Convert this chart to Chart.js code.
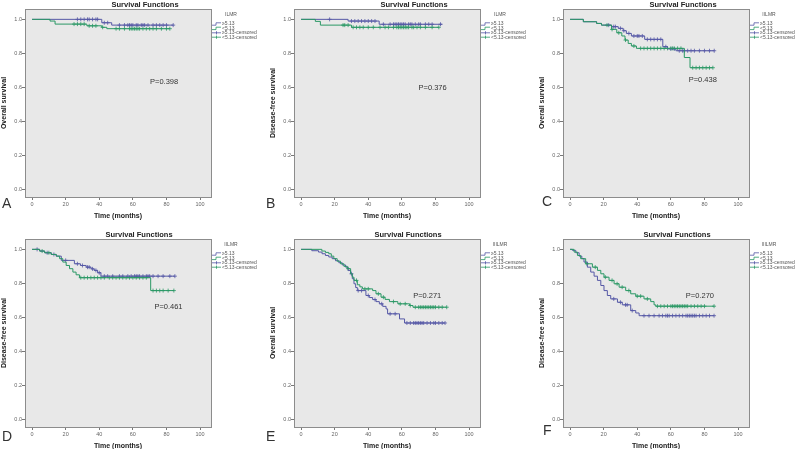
<!DOCTYPE html>
<html>
<head>
<meta charset="utf-8">
<script src="https://cdn.jsdelivr.net/npm/chart.js@4.4.0/dist/chart.umd.min.js"></script>
<style>
html, body { margin: 0; padding: 0; background: #fff; overflow: hidden; width: 800px; height: 449px; }
canvas { position: absolute; }
.letter { position: absolute; font: 14px "Liberation Sans", Arial, sans-serif; color: #333; }
</style>
</head>
<body>
<canvas id="cA" width="269" height="225" style="left:0px;top:0px"></canvas>
<canvas id="cB" width="269" height="225" style="left:269px;top:0px"></canvas>
<canvas id="cC" width="269" height="225" style="left:538px;top:0px"></canvas>
<canvas id="cD" width="269" height="225" style="left:0px;top:230px"></canvas>
<canvas id="cE" width="269" height="225" style="left:269px;top:230px"></canvas>
<canvas id="cF" width="269" height="225" style="left:538px;top:230px"></canvas>
<div class="letter" style="left:2px;top:195px">A</div>
<div class="letter" style="left:266px;top:195px">B</div>
<div class="letter" style="left:542px;top:193px">C</div>
<div class="letter" style="left:2px;top:428px">D</div>
<div class="letter" style="left:266px;top:428px">E</div>
<div class="letter" style="left:543px;top:422px">F</div>
<script>
// axis ticks
const xTicks = [0, 20, 40, 60, 80, 100]
const yTicks = [0, 0.2, 0.4, 0.6, 0.8, 1.0]
const legendLabels = ['\u22655.13', '<5.13', '\u22655.13-censored', '<5.13-censored']

// A: ILMR, overall survival
const aHiTime = [0, 41.5, 47.4, 84]
const aHiSurv = [1, 0.98, 0.966, 0.966]
const aHiCens = [27, 29, 31, 33, 34, 36, 38, 39, 43, 45, 52, 55, 57, 58, 59, 60, 62, 63, 65, 66, 67, 69, 72, 74, 76, 78, 80, 84]
const aLoTime = [0, 10.7, 13.7, 32.6, 41.5, 44.5, 82]
const aLoSurv = [1, 0.99, 0.972, 0.962, 0.953, 0.945, 0.945]
const aLoCens = [25, 27, 29, 31, 34, 36, 38, 42, 50, 52, 55, 58, 59, 60, 61, 62, 63, 64, 66, 68, 70, 72, 74, 77, 80, 82]

// B: ILMR, disease-free survival
const bHiTime = [0, 28, 46.5, 84]
const bHiSurv = [1, 0.99, 0.971, 0.971]
const bHiCens = [17, 30, 32, 34, 36, 38, 40, 42, 44, 49, 53, 55, 56, 57, 58, 59, 60, 61, 62, 64, 65, 66, 68, 70, 71, 74, 76, 78, 83]
const bLoTime = [0, 8.5, 11.5, 30, 82]
const bLoSurv = [1, 0.988, 0.966, 0.953, 0.953]
const bLoCens = [25, 26, 28, 31, 33, 35, 37, 40, 43, 47, 50, 52, 55, 57, 58, 59, 60, 61, 62, 63, 64, 66, 67, 69, 71, 74, 78, 82]

// C: IILMR, overall survival
const cHiTime = [0, 7.9, 15.8, 18.7, 24.7, 28.7, 31.6, 33.5, 36.5, 44.4, 55.2, 58, 63, 85.8]
const cHiSurv = [1, 0.986, 0.976, 0.966, 0.957, 0.947, 0.933, 0.917, 0.902, 0.882, 0.839, 0.826, 0.815, 0.815]
const cHiCens = [23, 26, 27, 30, 32, 35, 38, 40, 41, 43, 46, 48, 50, 52, 54, 57, 60, 62, 65, 67, 68, 70, 72, 74, 77, 80, 83, 85.8]
const cLoTime = [0, 7.9, 15.8, 18.7, 24.7, 27.8, 30.8, 32.7, 34.6, 36.5, 39.5, 68, 71.4, 85]
const cLoSurv = [1, 0.986, 0.976, 0.966, 0.941, 0.921, 0.902, 0.878, 0.858, 0.843, 0.829, 0.775, 0.715, 0.715]
const cLoCens = [22, 25, 29, 33, 38, 42, 44, 46, 48, 50, 52, 54, 56, 58, 60, 61, 62, 64, 66, 73, 75, 77, 79, 81, 83, 85]

// D: IILMR, disease-free survival
const dHiTime = [0, 4.5, 7.5, 11.4, 14.4, 17.4, 25.2, 28.8, 32.2, 35.1, 37, 39, 41, 85]
const dHiSurv = [1, 0.99, 0.98, 0.97, 0.96, 0.935, 0.915, 0.905, 0.895, 0.885, 0.876, 0.862, 0.842, 0.842]
const dHiCens = [3, 9, 13, 20, 27, 30, 33, 34, 36, 38, 40, 43, 45, 48, 52, 54, 57, 59, 61, 62, 63, 64, 66, 68, 69, 70, 72, 75, 78, 82, 85]
const dLoTime = [0, 4.5, 7.5, 11.4, 14.4, 16.4, 18.3, 20.3, 22.3, 24.3, 26.2, 28.2, 70.6, 84.4]
const dLoSurv = [1, 0.99, 0.98, 0.97, 0.96, 0.945, 0.925, 0.905, 0.886, 0.866, 0.85, 0.833, 0.757, 0.757]
const dLoCens = [6, 10, 29, 31, 33, 35, 37, 39, 41, 43, 46, 48, 50, 52, 54, 56, 58, 60, 62, 64, 66, 68, 72, 74, 76, 78, 81, 84.4]

// E: IIILMR, overall survival
const eHiTime = [0, 6.4, 10.4, 12.5, 14.5, 16.5, 18.5, 20.5, 22.5, 24.5, 26.5, 28, 29.5, 30.5, 31.5, 32.5, 33.5, 38.6, 40.6, 42.6, 44.6, 46.6, 48.6, 50.6, 51.5, 58.6, 61.6, 85.7]
const eHiSurv = [1, 0.992, 0.984, 0.974, 0.964, 0.955, 0.945, 0.933, 0.921, 0.908, 0.895, 0.875, 0.856, 0.827, 0.797, 0.775, 0.757, 0.728, 0.716, 0.704, 0.692, 0.679, 0.664, 0.649, 0.62, 0.59, 0.566, 0.566]
const eHiCens = [30, 34, 36, 40, 44, 48, 53, 56, 63, 65, 67, 68, 69, 70, 71, 72, 73, 75, 77, 79, 80, 82, 84, 85.7]
const eLoTime = [0, 12.4, 14.5, 16.5, 18, 19.5, 21.5, 23.5, 25.5, 27.5, 29.5, 30.5, 31.5, 33.5, 35, 36.5, 42.6, 44.6, 47.6, 50, 52.6, 57.6, 64.6, 66.6, 86.7]
const eLoSurv = [1, 0.99, 0.982, 0.974, 0.96, 0.945, 0.93, 0.915, 0.9, 0.886, 0.856, 0.836, 0.817, 0.791, 0.779, 0.767, 0.757, 0.738, 0.718, 0.705, 0.692, 0.679, 0.669, 0.659, 0.659]
const eLoCens = [28, 33, 38, 40, 46, 49, 55, 59, 62, 65, 68, 70, 71, 72, 73, 74, 75, 76, 77, 78, 79, 80, 82, 84, 86.7]

// F: IIILMR, disease-free survival
const fHiTime = [0, 1.4, 3.4, 5.4, 7, 8.3, 10.3, 12.3, 14.3, 16.3, 18.3, 20.2, 22.2, 24.2, 28.2, 31.1, 36.1, 39.1, 41.1, 85.7]
const fHiSurv = [1, 0.994, 0.98, 0.96, 0.945, 0.925, 0.895, 0.866, 0.842, 0.817, 0.787, 0.757, 0.728, 0.708, 0.688, 0.673, 0.639, 0.625, 0.609, 0.609]
const fHiCens = [26, 30, 33, 34, 37, 44, 47, 50, 53, 55, 57, 58, 59, 61, 63, 65, 67, 69, 70, 71, 72, 73, 74, 75, 77, 79, 81, 83, 85.7]
const fLoTime = [0, 2.4, 4.4, 6.3, 9.3, 13.3, 16.3, 18.3, 20.2, 23.2, 26.2, 29.2, 33.1, 36.1, 39.1, 44, 48, 50, 51, 85.7]
const fLoSurv = [1, 0.984, 0.964, 0.945, 0.915, 0.895, 0.876, 0.856, 0.836, 0.817, 0.797, 0.777, 0.757, 0.738, 0.724, 0.708, 0.692, 0.673, 0.665, 0.665]
const fLoCens = [10, 15, 21, 25, 28, 31, 35, 40, 42, 46, 52, 54, 56, 58, 60, 61, 62, 63, 64, 65, 66, 67, 68, 69, 70, 72, 74, 76, 78, 80, 85.7]

const blue = '#5558a6'
const green = '#2a9865'
const fontFam = '"Liberation Sans", Arial, sans-serif'

const panels = [
  { id: 'cA', group: 'ILMR', yTitle: 'Overall survival', p: 'P=0.398', pX: 70.2, pY: 0.63, titleX: 145,
    hiT: aHiTime, hiS: aHiSurv, hiC: aHiCens, loT: aLoTime, loS: aLoSurv, loC: aLoCens },
  { id: 'cB', group: 'ILMR', yTitle: 'Disease-free survival', p: 'P=0.376', pX: 69.9, pY: 0.596, titleX: 145,
    hiT: bHiTime, hiS: bHiSurv, hiC: bHiCens, loT: bLoTime, loS: bLoSurv, loC: bLoCens },
  { id: 'cC', group: 'IILMR', yTitle: 'Overall survival', p: 'P=0.438', pX: 70.6, pY: 0.642, titleX: 145,
    hiT: cHiTime, hiS: cHiSurv, hiC: cHiCens, loT: cLoTime, loS: cLoSurv, loC: cLoCens },
  { id: 'cD', group: 'IILMR', yTitle: 'Disease-free survival', p: 'P=0.461', pX: 72.8, pY: 0.659, titleX: 139,
    hiT: dHiTime, hiS: dHiSurv, hiC: dHiCens, loT: dLoTime, loS: dLoSurv, loC: dLoCens },
  { id: 'cE', group: 'IIILMR', yTitle: 'Overall survival', p: 'P=0.271', pX: 66.7, pY: 0.728, titleX: 139,
    hiT: eHiTime, hiS: eHiSurv, hiC: eHiCens, loT: eLoTime, loS: eLoSurv, loC: eLoCens },
  { id: 'cF', group: 'IIILMR', yTitle: 'Disease-free survival', p: 'P=0.270', pX: 68.9, pY: 0.728, titleX: 139,
    hiT: fHiTime, hiS: fHiSurv, hiC: fHiCens, loT: fLoTime, loS: fLoSurv, loC: fLoCens }
]

// survival value of a step curve at time t
function stepAt(times, surv, t) {
  let s = surv[0]
  for (let i = 0; i < times.length; i++) {
    if (times[i] <= t) s = surv[i]
  }
  return s
}

// grey plot box behind and border around the data area
const plotBox = {
  id: 'plotBox',
  beforeDraw(chart) {
    const a = chart.chartArea, ctx = chart.ctx
    ctx.save()
    ctx.fillStyle = '#e8e8e8'
    ctx.fillRect(a.left, a.top, a.right - a.left, a.bottom - a.top)
    ctx.restore()
  },
  afterDraw(chart) {
    const a = chart.chartArea, ctx = chart.ctx
    ctx.save()
    ctx.strokeStyle = '#8c8c8c'
    ctx.lineWidth = 1
    ctx.strokeRect(Math.round(a.left) + 0.5, Math.round(a.top) + 0.5, Math.round(a.right - a.left), Math.round(a.bottom - a.top))
    ctx.restore()
  }
}

// title, p value and the SPSS-like legend
const kmText = {
  id: 'kmText',
  afterDraw(chart, args, opts) {
    const ctx = chart.ctx, a = chart.chartArea
    ctx.save()
    ctx.fillStyle = '#222'
    ctx.font = 'bold 7.5px ' + fontFam
    ctx.textAlign = 'center'
    ctx.textBaseline = 'middle'
    ctx.fillText('Survival Functions', opts.titleX, 4.5)

    ctx.font = '7.5px ' + fontFam
    ctx.fillStyle = '#333'
    ctx.textAlign = 'left'
    ctx.fillText(opts.p, chart.scales.x.getPixelForValue(opts.pX), chart.scales.y.getPixelForValue(opts.pY))

    const x0 = a.right + 1
    ctx.font = '5px ' + fontFam
    ctx.fillStyle = '#555'
    ctx.textAlign = 'center'
    ctx.fillText(opts.group, a.right + 20, 15)
    ctx.textAlign = 'left'
    legendLabels.forEach((lab, i) => {
      const y = 24 + i * 4.4
      ctx.strokeStyle = i % 2 === 0 ? blue : green
      ctx.lineWidth = 0.8
      ctx.beginPath()
      if (i < 2) {
        ctx.moveTo(x0, y + 1.2)
        ctx.lineTo(x0 + 4, y + 1.2)
        ctx.lineTo(x0 + 4, y - 1.2)
        ctx.lineTo(x0 + 9, y - 1.2)
      } else {
        ctx.moveTo(x0, y)
        ctx.lineTo(x0 + 9, y)
        ctx.moveTo(x0 + 4.5, y - 1.6)
        ctx.lineTo(x0 + 4.5, y + 1.6)
      }
      ctx.stroke()
      ctx.fillText(lab, x0 + 10, y)
    })
    ctx.restore()
  }
}

function makeChart(p) {
  const curve = (t, s, col) => ({
    type: 'line',
    data: t.map((v, i) => ({ x: v, y: s[i] })),
    borderColor: col, borderWidth: 1, stepped: true,
    pointRadius: 0, fill: false
  })
  const marks = (c, t, s, col) => ({
    type: 'scatter',
    data: c.map(v => ({ x: v, y: stepAt(t, s, v) })),
    borderColor: col, backgroundColor: col, pointStyle: 'cross',
    pointRadius: 2, borderWidth: 0.8
  })
  new Chart(document.getElementById(p.id), {
    type: 'line',
    data: {
      datasets: [
        curve(p.loT, p.loS, green),
        curve(p.hiT, p.hiS, blue),
        marks(p.loC, p.loT, p.loS, green),
        marks(p.hiC, p.hiT, p.hiS, blue)
      ]
    },
    options: {
      responsive: false,
      animation: false,
      layout: { padding: { top: 9, left: 0, right: 58, bottom: 5 } },
      plugins: {
        legend: { display: false },
        tooltip: { enabled: false },
        kmText: { group: p.group, p: p.p, pX: p.pX, pY: p.pY, titleX: p.titleX }
      },
      scales: {
        x: {
          type: 'linear', min: -4.2, max: 106.5,
          afterBuildTicks: s => { s.ticks = xTicks.map(v => ({ value: v })) },
          afterFit: s => { s.height = 23 },
          border: { display: false },
          grid: { drawOnChartArea: false, drawTicks: true, tickLength: 3, color: '#777' },
          ticks: { font: { size: 5.5, family: fontFam }, color: '#666', padding: 1, maxRotation: 0, autoSkip: false },
          title: { display: true, text: 'Time (months)', font: { size: 7, weight: 'bold', family: fontFam }, color: '#222', padding: 0 }
        },
        y: {
          type: 'linear', min: -0.047, max: 1.061,
          afterBuildTicks: s => { s.ticks = yTicks.map(v => ({ value: v })) },
          afterFit: s => { s.width = 25 },
          border: { display: false },
          grid: { drawOnChartArea: false, drawTicks: true, tickLength: 3, color: '#777' },
          ticks: { font: { size: 5.5, family: fontFam }, color: '#666', padding: 0, callback: v => v.toFixed(1) },
          title: { display: true, text: p.yTitle, font: { size: 7, weight: 'bold', family: fontFam }, color: '#222', padding: 0 }
        }
      }
    },
    plugins: [plotBox, kmText]
  })
}

panels.forEach(makeChart)
</script>
</body>
</html>
